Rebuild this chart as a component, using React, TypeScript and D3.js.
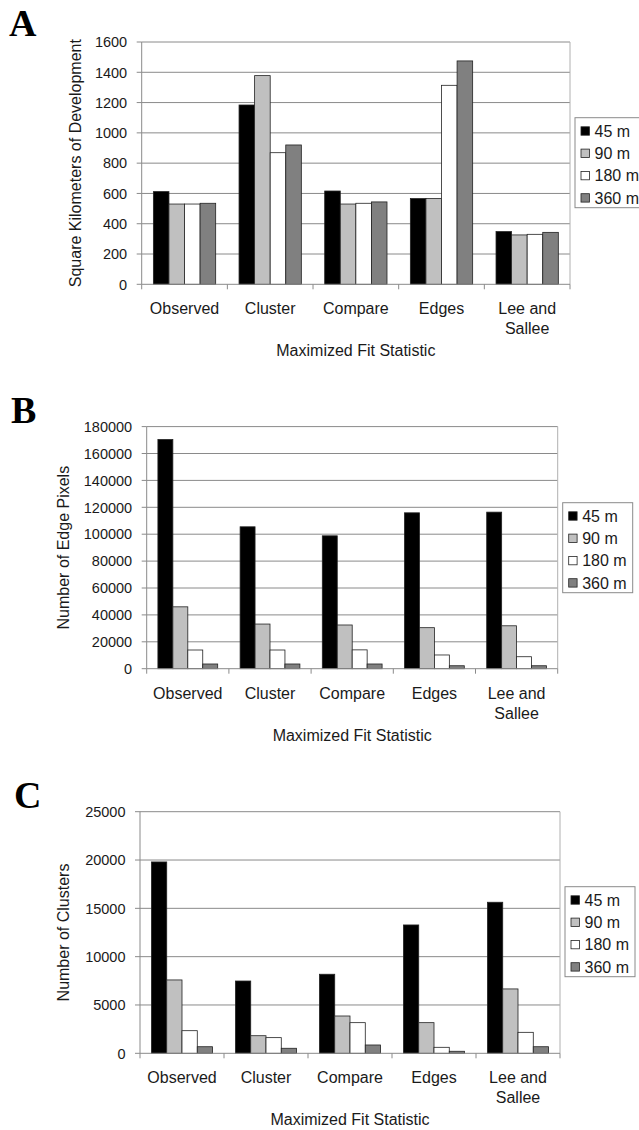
import React, { useEffect, useRef } from 'react';
import * as d3 from 'd3';

const categories = ['Observed', 'Cluster', 'Compare', 'Edges', 'Lee and Sallee'];
const categoryLines = [['Observed'], ['Cluster'], ['Compare'], ['Edges'], ['Lee and', 'Sallee']];
const seriesNames = ['45 m', '90 m', '180 m', '360 m'];
const seriesFills = ['#000000', '#c0c0c0', '#ffffff', '#808080'];

// A: square kilometers of development
const areaA45 = [612, 1184, 616, 566, 348];
const areaA90 = [530, 1378, 530, 566, 326];
const areaA180 = [530, 869, 535, 1314, 330];
const areaA360 = [535, 920, 544, 1475, 343];
const areaTicks = [0, 200, 400, 600, 800, 1000, 1200, 1400, 1600];

// B: number of edge pixels
const edge45 = [170400, 105500, 98800, 115900, 116400];
const edge90 = [46000, 33200, 32500, 30500, 31900];
const edge180 = [13900, 13900, 14000, 10200, 8900];
const edge360 = [3500, 3500, 3500, 2200, 2200];
const edgeTicks = [0, 20000, 40000, 60000, 80000, 100000, 120000, 140000, 160000, 180000];

// C: number of clusters
const clus45 = [19800, 7480, 8180, 13280, 15630];
const clus90 = [7590, 1820, 3860, 3170, 6660];
const clus180 = [2340, 1620, 3170, 620, 2170];
const clus360 = [680, 520, 860, 210, 680];
const clusTicks = [0, 5000, 10000, 15000, 20000, 25000];

const xTitle = 'Maximized Fit Statistic';

const panels = [
  {
    letter: 'A', letterX: 9, letterY: 36,
    values: [areaA45, areaA90, areaA180, areaA360], ticks: areaTicks,
    yTitle: 'Square Kilometers of Development', yTitleX: 75,
    left: 141.7, right: 570, top: 42, bottom: 284.3,
    legendX: 575, legendY: 117.7,
  },
  {
    letter: 'B', letterX: 11, letterY: 423,
    values: [edge45, edge90, edge180, edge360], ticks: edgeTicks,
    yTitle: 'Number of Edge Pixels', yTitleX: 63,
    left: 146.7, right: 557.7, top: 426.6, bottom: 668.7,
    legendX: 562.7, legendY: 502.7,
  },
  {
    letter: 'C', letterX: 14, letterY: 808,
    values: [clus45, clus90, clus180, clus360], ticks: clusTicks,
    yTitle: 'Number of Clusters', yTitleX: 63,
    left: 140, right: 560, top: 811.7, bottom: 1053.3,
    legendX: 565, legendY: 886.7,
  },
];

const sans = '"Liberation Sans", Arial, sans-serif';
const ink = '#1a1a1a';

const App = () => {
  const svgRef = useRef(null);

  useEffect(() => {
    const svg = d3.select(svgRef.current);
    svg.selectAll('*').remove();

    panels.forEach((p) => {
      const g = svg.append('g');
      const y = d3.scaleLinear()
        .domain([0, p.ticks[p.ticks.length - 1]])
        .range([p.bottom, p.top]);
      const x = d3.scaleBand().domain(categories).range([p.left, p.right]).padding(0);
      const inner = d3.scaleBand()
        .domain(seriesNames)
        .range([0, x.bandwidth()])
        .paddingInner(0)
        .paddingOuter(0.75);

      // gridlines
      g.selectAll('.grid')
        .data(p.ticks.slice(1))
        .enter().append('line')
        .attr('x1', p.left).attr('x2', p.right)
        .attr('y1', (d) => y(d)).attr('y2', (d) => y(d))
        .attr('stroke', '#8a8a8a').attr('stroke-width', 1);

      // plot border right
      g.append('line')
        .attr('x1', p.right).attr('x2', p.right)
        .attr('y1', p.top).attr('y2', p.bottom)
        .attr('stroke', '#b0b0b0');

      // bars
      p.values.forEach((vals, si) => {
        g.selectAll('.bar' + si)
          .data(vals)
          .enter().append('rect')
          .attr('x', (d, i) => x(categories[i]) + inner(seriesNames[si]))
          .attr('y', (d) => y(d))
          .attr('width', inner.bandwidth())
          .attr('height', (d) => p.bottom - y(d))
          .attr('fill', seriesFills[si])
          .attr('stroke', '#222')
          .attr('stroke-width', 0.8);
      });

      // axes
      g.append('line')
        .attr('x1', p.left).attr('x2', p.left)
        .attr('y1', p.top).attr('y2', p.bottom)
        .attr('stroke', '#8a8a8a');
      g.append('line')
        .attr('x1', p.left).attr('x2', p.right)
        .attr('y1', p.bottom).attr('y2', p.bottom)
        .attr('stroke', '#8a8a8a');

      // y ticks
      g.selectAll('.ytick')
        .data(p.ticks)
        .enter().append('line')
        .attr('x1', p.left - 5).attr('x2', p.left)
        .attr('y1', (d) => y(d)).attr('y2', (d) => y(d))
        .attr('stroke', '#8a8a8a');
      g.selectAll('.ylab')
        .data(p.ticks)
        .enter().append('text')
        .attr('x', p.left - 14.5)
        .attr('y', (d) => y(d))
        .attr('dy', '0.36em')
        .attr('text-anchor', 'end')
        .style('font', `14.5px ${sans}`)
        .attr('fill', ink)
        .text((d) => String(d));

      // x ticks at band edges
      const edges = categories.map((c) => x(c)).concat([p.right]);
      g.selectAll('.xtick')
        .data(edges)
        .enter().append('line')
        .attr('x1', (d) => d).attr('x2', (d) => d)
        .attr('y1', p.bottom).attr('y2', p.bottom + 5)
        .attr('stroke', '#8a8a8a');

      // category labels
      categoryLines.forEach((lines, i) => {
        lines.forEach((line, li) => {
          g.append('text')
            .attr('x', x(categories[i]) + x.bandwidth() / 2)
            .attr('y', p.bottom + 30 + li * 20)
            .attr('text-anchor', 'middle')
            .style('font', `16px ${sans}`)
            .attr('fill', ink)
            .text(line);
        });
      });

      // axis titles
      g.append('text')
        .attr('x', (p.left + p.right) / 2)
        .attr('y', p.bottom + 72)
        .attr('text-anchor', 'middle')
        .style('font', `16px ${sans}`)
        .attr('fill', ink)
        .text(xTitle);
      g.append('text')
        .attr('transform', `translate(${p.yTitleX},${(p.top + p.bottom) / 2}) rotate(-90)`)
        .attr('dy', '0.36em')
        .attr('text-anchor', 'middle')
        .style('font', `16px ${sans}`)
        .attr('fill', ink)
        .text(p.yTitle);

      // panel letter
      g.append('text')
        .attr('x', p.letterX)
        .attr('y', p.letterY)
        .style('font', `bold 38px "Liberation Serif", "Times New Roman", serif`)
        .attr('fill', '#000')
        .text(p.letter);

      // legend
      const lg = g.append('g').attr('transform', `translate(${p.legendX},${p.legendY})`);
      lg.append('rect')
        .attr('width', 70).attr('height', 90)
        .attr('fill', '#fff')
        .attr('stroke', '#8a8a8a');
      seriesNames.forEach((name, si) => {
        const cy = 13.3 + si * 22.3;
        lg.append('rect')
          .attr('x', 6).attr('y', cy - 4.2)
          .attr('width', 8.4).attr('height', 8.4)
          .attr('fill', seriesFills[si])
          .attr('stroke', '#222')
          .attr('stroke-width', 0.8);
        lg.append('text')
          .attr('x', 19.5).attr('y', cy)
          .attr('dy', '0.36em')
          .style('font', `16px ${sans}`)
          .attr('fill', ink)
          .text(name);
      });
    });
  }, []);

  return (
    <div style={{ position: 'absolute', left: 0, top: 0 }}>
      <svg ref={svgRef} width={639} height={1130} style={{ display: 'block', background: '#fff' }} />
    </div>
  );
};

export default App;
